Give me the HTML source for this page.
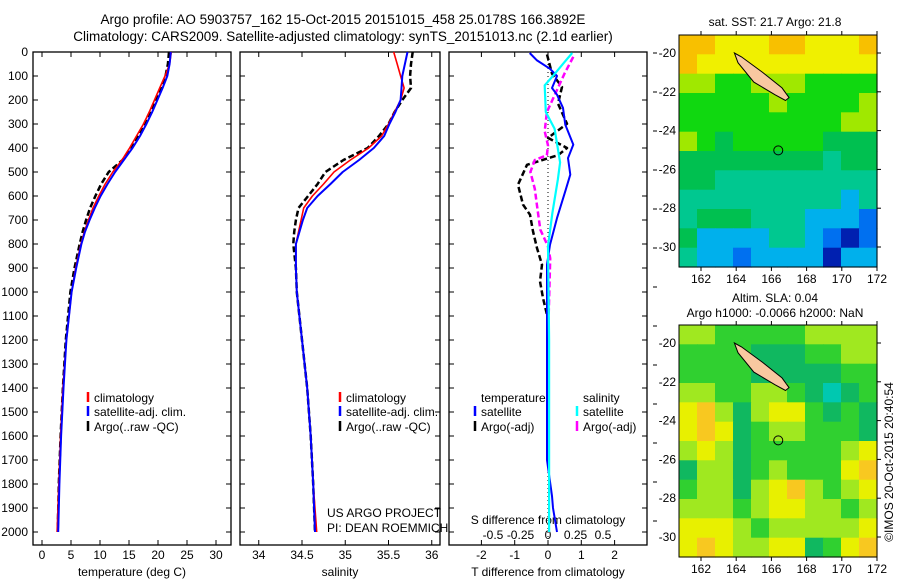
<!DOCTYPE html>
<html><head><meta charset="utf-8"><style>
html,body{margin:0;padding:0;background:#fff;}
svg{display:block;font-family:"Liberation Sans",sans-serif;}
</style></head><body>
<svg id="fig" width="900" height="580" viewBox="0 0 900 580">
<text x="343" y="24" font-size="13.5" text-anchor="middle">Argo profile: AO 5903757_162 15-Oct-2015 20151015_458 25.0178S 166.3892E</text>
<text x="343" y="41" font-size="13.5" text-anchor="middle">Climatology: CARS2009. Satellite-adjusted climatology: synTS_20151013.nc (2.1d earlier)</text>
<g id="g"></g>
</svg>
<script>
// ---------- data ----------
const depths=[0,50,100,150,200,250,300,350,400,450,500,550,600,650,700,750,800,900,1000,1200,1400,1600,1800,2000];
const tClim=[22.3,22.0,21.2,20.3,19.4,18.5,17.5,16.3,15.1,13.8,12.2,10.9,9.8,8.8,8.0,7.3,6.7,5.8,5.1,4.2,3.6,3.2,2.9,2.6];
const tSat=[22.2,22.0,21.6,20.8,19.9,19.0,18.0,16.9,15.6,14.1,12.6,11.3,10.1,9.1,8.2,7.4,6.8,5.9,5.1,4.2,3.7,3.3,3.0,2.8];
const tArgo=[21.9,21.7,21.3,20.5,19.6,18.6,17.6,16.5,15.3,13.9,11.5,10.2,9.2,8.3,7.6,7.0,6.5,5.6,4.9,4.1,3.6,3.2,2.9,2.7];
const sClim=[35.56,35.60,35.64,35.68,35.64,35.57,35.50,35.42,35.27,35.06,34.87,34.75,34.62,34.52,34.49,34.46,34.43,34.43,34.44,34.50,34.56,34.60,34.63,34.67];
const sSat=[35.72,35.69,35.66,35.65,35.64,35.58,35.51,35.45,35.33,35.16,34.97,34.83,34.68,34.56,34.51,34.47,34.43,34.43,34.44,34.50,34.56,34.60,34.63,34.65];
const sArgo=[35.78,35.76,35.75,35.76,35.66,35.57,35.50,35.39,35.26,34.98,34.77,34.68,34.57,34.46,34.43,34.41,34.40,34.43,34.44,34.50,34.56,34.60,34.63,34.65];
const dtSatDepth=[4,35,70,100,150,178,233,303,386,442,511,580,692,803,886,1200,1700,1850,1900,2000];
const dtSat=[-0.55,-0.33,0.06,0.27,0.12,0.27,0.45,0.52,0.76,0.6,0.67,0.52,0.27,0.06,-0.03,-0.03,-0.03,0.12,0.15,0.27];
const dtArgoDepth=[10,90,146,215,299,358,400,430,470,553,636,678,747,817,886,956,1025,1095];
const dtArgo=[-0.03,0.12,0.42,0.30,0.57,0.0,0.57,0.3,-0.63,-0.9,-0.75,-0.54,-0.45,-0.33,-0.18,-0.24,-0.15,-0.03];
const dsSatDepth=[4,42,97,139,250,320,460,530,670,810,1200,2000];
const dsSat=[0.22,0.15,0.05,-0.03,-0.02,0.06,0.11,0.09,0.04,0.0,0.01,0.01];
const dsArgoDepth=[20,90,180,250,330,389,430,450,500,570,640,740,810,860,1200,1500];
const dsArgo=[0.23,0.15,0.06,-0.01,-0.03,0.0,-0.01,-0.12,-0.16,-0.12,-0.1,-0.07,0.0,0.02,0.0,0.0];
const depthTicks=[0,100,200,300,400,500,600,700,800,900,1000,1100,1200,1300,1400,1500,1600,1700,1800,1900,2000];
const tTicks=[0,5,10,15,20,25,30];
const sTicks=[34,34.5,35,35.5,36];
const dtTicks=[-2,-1,0,1,2];
const dsTicks=[-0.5,-0.25,0,0.25,0.5];
const dsTickLabels=["-0.5","-0.25","0","0.25","0.5"];
const lonTicks=[162,164,166,168,170,172];
const latTicks=[-20,-22,-24,-26,-28,-30];
const sstGrid=[
[7,7,6,6,6,7,7,6,6,6,7],[7,6,6,6,6,6,6,6,6,6,6],[5,5,4,4,5,5,5,4,4,4,4],
[4,4,4,4,4,5,4,4,4,4,5],[4,4,4,4,4,4,4,4,4,5,5],[5,4,3,4,4,4,4,4,3,3,3],
[3,3,3,3,3,3,3,3,2,3,3],[3,3,2,2,2,2,2,2,2,2,2],[2,2,2,2,2,2,2,2,2,1,2],
[2,3,3,3,2,2,2,1,1,1,0],[3,1,1,1,1,2,2,1,0,-1,0],[2,1,1,0,1,1,1,1,-1,1,1]];
const slaGrid=[
[5,5,4,4,4,4,4,5,5,5,5],[4,4,4,4,3,3,3,4,4,5,5],[4,4,4,4,3,3,3,3,3,4,4],
[5,5,4,4,5,5,4,3,2,3,4],[6,7,5,3,5,6,6,4,3,4,3],[6,7,6,3,4,5,5,4,4,4,3],
[5,6,5,3,4,4,4,4,4,5,6],[3,5,5,3,4,5,4,4,4,6,7],[4,5,5,3,5,6,7,5,4,5,6],
[5,5,5,4,5,6,6,5,5,4,5],[6,6,6,5,4,5,5,5,5,5,6],[6,7,6,5,5,6,6,3,4,6,7]];
const island=[[163.9,-20.0],[164.3,-20.2],[165.5,-21.0],[166.6,-21.8],[167.0,-22.3],[166.8,-22.45],[166.2,-22.15],[165.0,-21.5],[164.1,-20.5]];
const argoPos=[166.39,-25.02];
// ---------- helpers ----------
const NS="http://www.w3.org/2000/svg", G=document.getElementById('g');
function mk(tag,at,parent){const e=document.createElementNS(NS,tag);for(const k in at)e.setAttribute(k,at[k]);(parent||G).appendChild(e);return e;}
const Y=d=>52+d*0.24;
const PT={x0:33,x1:231}, PS={x0:240,x1:440}, PD={x0:449,x1:647}, YB=545;
const xT=v=>42+v*5.8, xS=v=>302+(v-34.5)*86.5, xDT=v=>548+v*33.3, xDS=v=>548+v*110;
function panel(p,name){
  const r=mk('rect',{x:p.x0,y:52,width:p.x1-p.x0,height:YB-52,fill:'none',stroke:'#000','stroke-width':1.3});
  
  
  depthTicks.forEach(d=>{mk('line',{x1:p.x0,x2:p.x0+5,y1:Y(d),y2:Y(d),stroke:'#000'});mk('line',{x1:p.x1,x2:p.x1-5,y1:Y(d),y2:Y(d),stroke:'#000'});});
}
function xticks(p,ticks,f,labels,ly,nm){
  ticks.forEach((t,i)=>{const x=f(t);
    mk('line',{x1:x,x2:x,y1:52,y2:57,stroke:'#000'});mk('line',{x1:x,x2:x,y1:YB,y2:YB-5,stroke:'#000'});
    const tx=mk('text',{x:x,y:ly,'font-size':12,'text-anchor':'middle'});tx.textContent=labels?labels[i]:String(t);
    
    });
}
function line(xs,ds,f,col,w,dash,name){
  const pts=xs.map((v,i)=>f(v).toFixed(1)+','+Y(ds[i]).toFixed(1)).join(' ');
  const a={points:pts,fill:'none',stroke:col,'stroke-width':w,'stroke-linejoin':'round'};if(dash)a['stroke-dasharray']=dash;
  const e=mk('polyline',a);
  
  
}
function txt(x,y,s,opt,name){const e=mk('text',Object.assign({x:x,y:y,'font-size':12},opt||{}));e.textContent=s;
  
  return e;}
function legend(x,y,col,label,name){mk('line',{x1:x,x2:x,y1:y-10,y2:y,stroke:col,'stroke-width':2.5});txt(x+6,y,label,{},name);}
// ---------- panels ----------
panel(PT,'temperature-panel');panel(PS,'salinity-panel');panel(PD,'difference-panel');
depthTicks.forEach(d=>txt(28,Y(d)+4,String(d),{'text-anchor':'end'},'depth-tick-label'));
xticks(PT,tTicks,xT,null,559,'temperature');
xticks(PS,sTicks,xS,null,559,'salinity');
xticks(PD,dtTicks,xDT,null,559,'t-difference');
dsTicks.forEach((t,i)=>txt(xDS(t),539,dsTickLabels[i],{'text-anchor':'middle'},'s-difference-tick-label'));
for(let y=53;y<540;y+=39)mk('line',{x1:653,x2:657,y1:y,y2:y,stroke:'#000'});
txt(132,576,'temperature (deg C)',{'text-anchor':'middle'},'x-axis-title-temperature');
txt(340,576,'salinity',{'text-anchor':'middle'},'x-axis-title-salinity');
txt(548,576,'T difference from climatology',{'text-anchor':'middle'},'x-axis-title-t-difference');
txt(548,524,'S difference from climatology',{'text-anchor':'middle'},'s-difference-axis-title');
txt(327,517,'US ARGO PROJECT',{},'project-credit');txt(327,532,'PI: DEAN ROEMMICH',{},'pi-credit');
mk('line',{x1:548,x2:548,y1:52,y2:YB,stroke:'#000','stroke-dasharray':'1 3'});
// series
line(tArgo,depths,xT,'#000',2.5,'6 3','temp-argo');
line(tClim,depths,xT,'#f00',1.6,null,'temp-climatology');
line(tSat,depths,xT,'#00f',2,null,'temp-satellite');
line(sArgo,depths,xS,'#000',2.5,'6 3','sal-argo');
line(sClim,depths,xS,'#f00',1.6,null,'sal-climatology');
line(sSat,depths,xS,'#00f',2,null,'sal-satellite');
line(dtArgo,dtArgoDepth,xDT,'#000',2.5,'6 3','tdiff-argo');
line(dsArgo,dsArgoDepth,xDS,'#f0f',2.5,'6 3','sdiff-argo');
line(dtSat,dtSatDepth,xDT,'#00f',2,null,'tdiff-satellite');
line(dsSat,dsSatDepth,xDS,'#0ff',2.2,null,'sdiff-satellite');
// legends
legend(88,402,'#f00','climatology','legend-climatology');legend(88,416,'#00f','satellite-adj. clim.','legend-satellite-adj');legend(88,431,'#000','Argo(..raw -QC)','legend-argo');
legend(340,402,'#f00','climatology','legend-climatology-2');legend(340,416,'#00f','satellite-adj. clim.','legend-satellite-adj-2');legend(340,431,'#000','Argo(..raw -QC)','legend-argo-2');
txt(481,402,'temperature',{},'legend-temperature-header');txt(583,402,'salinity',{},'legend-salinity-header');
legend(475,416,'#00f','satellite','legend-t-satellite');legend(475,431,'#000','Argo(-adj)','legend-t-argo');
legend(577,416,'#0ff','satellite','legend-s-satellite');legend(577,431,'#f0f','Argo(-adj)','legend-s-argo');
// ---------- maps ----------
const sstCols={'-1':'#0020b0','0':'#0070f0','1':'#00b0ec','2':'#00c890','3':'#00c050','4':'#10d810','5':'#a0e800','6':'#f0f000','7':'#f8c000'};
const slaCols={'2':'#00c8b0','3':'#10b860','4':'#30d030','5':'#a0e820','6':'#e8f000','7':'#f8c820'};
function map(y0,grid,cols,name){
  const X0=679,X1=877,Y1=y0+232;
  const lx=lon=>701+(lon-162)*17.6, ly=lat=>y0+18+(-20-lat)*19.4;
  const cw=(X1-X0)/11,ch=(Y1-y0)/12;
  grid.forEach((row,r)=>row.forEach((v,c)=>{
    const e=mk('rect',{x:(X0+c*cw).toFixed(1),y:(y0+r*ch).toFixed(1),width:(cw+0.6).toFixed(1),height:(ch+0.6).toFixed(1),fill:cols[v]});
    
    }));
  const isl=mk('polygon',{points:island.map(p=>lx(p[0]).toFixed(1)+','+ly(p[1]).toFixed(1)).join(' '),fill:'#f8c8a0',stroke:'#000','stroke-width':1});
  
  
  const c=mk('circle',{cx:lx(argoPos[0]),cy:ly(argoPos[1]),r:4.5,fill:'none',stroke:'#000','stroke-width':1});
  
  
  const b=mk('rect',{x:X0,y:y0,width:X1-X0,height:Y1-y0,fill:'none',stroke:'#000','stroke-width':1});
  
  
  lonTicks.forEach(l=>{const x=lx(l);mk('line',{x1:x,x2:x,y1:y0,y2:y0-4,stroke:'#000'});mk('line',{x1:x,x2:x,y1:Y1,y2:Y1+4,stroke:'#000'});
    txt(x,Y1+16,String(l),{'text-anchor':'middle'},name+'-lon-label');});
  latTicks.forEach(l=>{const y=ly(l);mk('line',{x1:X1,x2:X1+4,y1:y,y2:y,stroke:'#000'});
    txt(676,y+4,String(l),{'text-anchor':'end'},name+'-lat-label');});
}
map(35,sstGrid,sstCols,'sst-map');
map(325,slaGrid,slaCols,'sla-map');
txt(775,26,'sat. SST: 21.7 Argo: 21.8',{'text-anchor':'middle'},'sst-map-title');
txt(775,302,'Altim. SLA: 0.04',{'text-anchor':'middle'},'sla-map-title');
txt(775,317,'Argo h1000: -0.0066 h2000: NaN',{'text-anchor':'middle'},'sla-map-subtitle');
txt(0,0,'©IMOS 20-Oct-2015 20:40:54',{'text-anchor':'middle',transform:'translate(893,462) rotate(-90)'},'imos-timestamp');
</script>
</body></html>
